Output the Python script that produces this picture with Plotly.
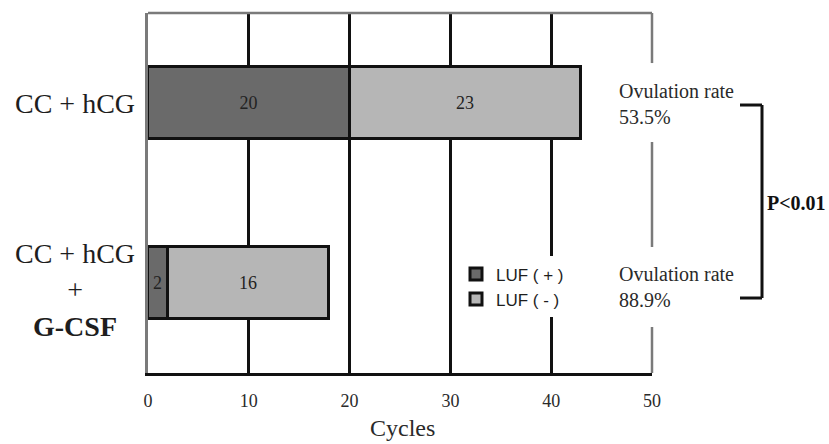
import plotly.graph_objects as go

# Cycle counts per treatment group
groups = ["CC + hCG", "CC + hCG<br>+<br><b>G-CSF</b>"]
group_pos = [1, 0]
luf_pos = [20, 2]    # LUF (+)
luf_neg = [23, 16]   # LUF (-)
x_ticks = [0, 10, 20, 30, 40, 50]
x_title = "Cycles"
p_label = "P<0.01"

SERIF = "Liberation Serif, Times New Roman, serif"
SANS = "Liberation Sans, Arial, sans-serif"

fig = go.Figure()
fig.add_trace(go.Bar(
    y=group_pos, x=luf_pos, orientation="h", name="LUF ( + )",
    marker=dict(color="#6a6a6a", line=dict(color="#111111", width=3)),
    width=0.4, text=luf_pos, textposition="inside", insidetextanchor="middle",
    textfont=dict(family=SERIF, size=18, color="#222222"),
    constraintext="none",
))
fig.add_trace(go.Bar(
    y=group_pos, x=luf_neg, orientation="h", name="LUF ( - )",
    marker=dict(color="#b6b6b6", line=dict(color="#111111", width=3)),
    width=0.4, text=luf_neg, textposition="inside", insidetextanchor="middle",
    textfont=dict(family=SERIF, size=18, color="#222222"),
    constraintext="none",
))

# Group names on the left
for name, pos in zip(groups, group_pos):
    multi = "<br>" in name
    fig.add_annotation(
        x=-0.145, xref="paper", y=pos, yref="y", text=name, showarrow=False,
        xanchor="center", yanchor="middle", align="center",
        yshift=-7 if multi else 0,
        font=dict(family=SERIF, size=28, color="#1e1e1e"),
    )

# Ovulation rate = LUF(-) / all cycles
rate_y = [0.748, 0.240]
for pos_c, neg_c, ry in zip(luf_pos, luf_neg, rate_y):
    rate = 100 * neg_c / (pos_c + neg_c)
    fig.add_annotation(
        x=(617 - 148) / 504, xref="paper", y=ry, yref="paper",
        text=f"Ovulation rate<br>{rate:.1f}%", showarrow=False,
        xanchor="left", yanchor="middle", align="left",
        font=dict(family=SERIF, size=20, color="#2a2a2a"),
    )

# Significance bracket
bx0, bx1 = (740 - 148) / 504, (762 - 148) / 504
by_top, by_bot = 0.7444, 0.2083
bracket = dict(type="line", xref="paper", yref="paper",
               line=dict(color="#111111", width=3))
fig.add_shape(x0=bx0, x1=bx1, y0=by_top, y1=by_top, **bracket)
fig.add_shape(x0=bx1, x1=bx1, y0=by_top, y1=by_bot, **bracket)
fig.add_shape(x0=bx0, x1=bx1, y0=by_bot, y1=by_bot, **bracket)
fig.add_annotation(
    x=(765 - 148) / 504, xref="paper", y=0.472, yref="paper", text=f"<b>{p_label}</b>",
    showarrow=False, xanchor="left", yanchor="middle",
    font=dict(family=SERIF, size=20, color="#111111"),
)

# Axis title below the tick labels
fig.add_annotation(
    x=0.505, xref="paper", y=-0.153, yref="paper", text=x_title, showarrow=False,
    xanchor="center", yanchor="middle",
    font=dict(family=SERIF, size=24, color="#2a2a2a"),
)

# Frame: grey top edge and a broken right edge
frame = dict(type="line", xref="paper", yref="paper",
             line=dict(color="#7a7a7a", width=2.5))
fig.add_shape(x0=0, x1=1, y0=1, y1=1, **frame)
for y0, y1 in [(1.0, 0.861), (0.6417, 0.35), (0.1278, 0.0)]:
    fig.add_shape(x0=1, x1=1, y0=y0, y1=y1, **frame)

fig.update_layout(
    width=829, height=444,
    margin=dict(l=148, r=177, t=13, b=71, autoexpand=False),
    barmode="stack", bargap=0,
    plot_bgcolor="white", paper_bgcolor="white",
    showlegend=True,
    legend=dict(
        x=(456 - 148) / 504, y=0.324, xanchor="left", yanchor="top",
        bgcolor="white", borderwidth=0,
        font=dict(family=SANS, size=17, color="#1e1e1e"),
        itemwidth=30, traceorder="normal",
        tracegroupgap=0,
    ),
    xaxis=dict(
        range=[0, 50], tickvals=x_ticks, ticktext=[str(v) for v in x_ticks],
        showgrid=True, gridcolor="#111111", gridwidth=3,
        zeroline=False, showline=True, linecolor="#111111", linewidth=3,
        ticks="", ticklabelstandoff=9, automargin=False,
        tickfont=dict(family=SERIF, size=18, color="#2a2a2a"),
        layer="below traces",
    ),
    yaxis=dict(
        range=[-0.5, 1.5], showticklabels=False, showgrid=False,
        zeroline=False, showline=True, linecolor="#7a7a7a", linewidth=2.5,
        ticks="", automargin=False,
    ),
)

fig.write_html("out.html")
